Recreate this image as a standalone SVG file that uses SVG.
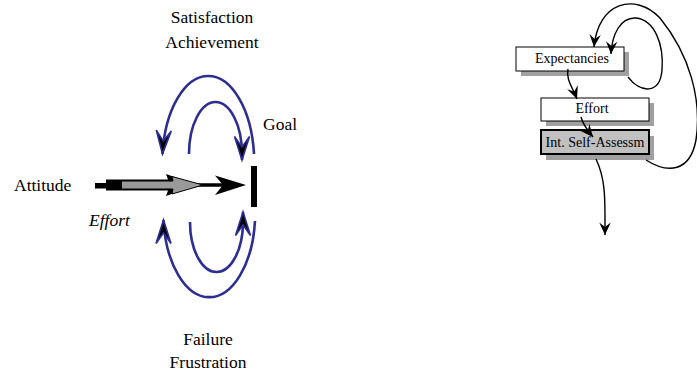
<svg xmlns="http://www.w3.org/2000/svg" width="697" height="374" viewBox="0 0 697 374">
  <defs>
    <style>
      .lbl { font-family: "Liberation Serif", "Times New Roman", serif; font-size: 17.5px; fill: #000; }
      .ital { font-style: italic; }
      .box-text { font-family: "Liberation Serif", "Times New Roman", serif; font-size: 14px; fill: #000; text-anchor: middle; }
      .loop { fill: none; stroke: #2e2e92; stroke-width: 2.6; }
      .flow { fill: none; stroke: #000; stroke-width: 1.4; }
      .box { fill: #fff; stroke: #000; stroke-width: 1; }
      .box-alt { fill: #c0c0c0; stroke: #000; stroke-width: 2; }
      .shadow { fill: #a0a0a0; }
    </style>
    <!-- barbed heads for the blue feedback loops -->
    <marker id="loopHead" markerUnits="userSpaceOnUse" markerWidth="30" markerHeight="30" viewBox="-2 -2 28 20" refX="22" refY="7" orient="auto">
      <path d="M22,7 L0,0 L10,7 L0,14 Z" fill="#000" stroke="#2e2e92" stroke-width="1.5" stroke-linejoin="miter"/>
    </marker>
    <!-- small black heads for the flow chart -->
    <marker id="flowHead" markerUnits="userSpaceOnUse" markerWidth="16" markerHeight="16" viewBox="-1 -1 14 12" refX="11" refY="5" orient="auto">
      <path d="M11,5 L0,0 L4,5 L0,10 Z" fill="#000"/>
    </marker>
  </defs>

  <rect width="697" height="374" fill="#fff"/>

  <!-- left: effort toward goal with feedback loops -->
  <g id="labels">
    <text class="lbl" x="212" y="23" text-anchor="middle">Satisfaction</text>
    <text class="lbl" x="212" y="48" text-anchor="middle">Achievement</text>
    <text class="lbl" x="263" y="130">Goal</text>
    <text class="lbl" x="14" y="191">Attitude</text>
    <text class="lbl ital" x="89" y="226">Effort</text>
    <text class="lbl" x="208" y="345" text-anchor="middle">Failure</text>
    <text class="lbl" x="208" y="368" text-anchor="middle">Frustration</text>
  </g>

  <g id="goal">
    <rect x="251" y="166" width="6" height="41" fill="#000"/>
  </g>

  <g id="effort-arrow">
    <!-- tail stub -->
    <rect x="95" y="183" width="13" height="5.5" fill="#000"/>
    <!-- black backing of the block arrow -->
    <path d="M106,179.5 L168,179.5 L166,174 L197,185 L166,196 L168,190.5 L106,190.5 Z" fill="#000"/>
    <!-- shaft line to the goal -->
    <line x1="195" y1="185" x2="230" y2="185" stroke="#000" stroke-width="3.5"/>
    <path d="M246,185 L215,175.5 L223,185 L215,195 Z" fill="#000"/>
    <!-- grey block arrow -->
    <path d="M121.5,181 L173,181 L172,176.5 L203,185 L172,194 L173,189 L121.5,189 Z" fill="#999" stroke="#000" stroke-width="1"/>
  </g>

  <g id="feedback-loops">
    <path class="loop" d="M254,154 A46,87 0 0 0 162.5,154" marker-end="url(#loopHead)"/>
    <path class="loop" d="M189,154 A26.5,52 0 0 1 242,154 L242,160" marker-end="url(#loopHead)"/>
    <path class="loop" d="M255,221 A46,85 0 0 1 163.5,221 L163.5,220" marker-end="url(#loopHead)"/>
    <path class="loop" d="M190,222 A26.5,50 0 0 0 243,222 L243,212" marker-end="url(#loopHead)"/>
  </g>

  <!-- right: flow chart -->
  <g id="node-expectancies">
    <rect class="shadow" x="521" y="52" width="108" height="24"/>
    <rect class="box" x="516" y="47" width="108" height="24"/>
    <text class="box-text" x="572" y="63">Expectancies</text>
  </g>

  <g id="node-effort">
    <rect class="shadow" x="546" y="103" width="108" height="23"/>
    <rect class="box" x="541" y="98" width="108" height="23"/>
    <text class="box-text" x="592" y="113">Effort</text>
  </g>

  <g id="node-assessment">
    <rect class="shadow" x="546" y="136" width="108" height="24"/>
    <rect class="box-alt" x="541" y="130" width="108" height="24"/>
    <text class="box-text" x="595" y="147">Int. Self-Assessm</text>
  </g>

  <g id="connectors">
    <path class="flow" d="M568,69 C566,80 572,86 577,99" marker-end="url(#flowHead)"/>
    <path class="flow" d="M581,117 C583,125 588,131 593,137" marker-end="url(#flowHead)"/>
    <path class="flow" d="M596,159 C606,180 605,200 605,235" marker-end="url(#flowHead)"/>
    <path class="flow" d="M646,160 C668,174 690,172 696,140 C702,100 690,55 660,18 C635,-8 598,2 594,47" marker-end="url(#flowHead)"/>
    <path class="flow" d="M628,77 C640,93 660,95 662,70 C664,45 655,20 636,18 C620,17 612,35 611,54" marker-end="url(#flowHead)"/>
  </g>
</svg>
